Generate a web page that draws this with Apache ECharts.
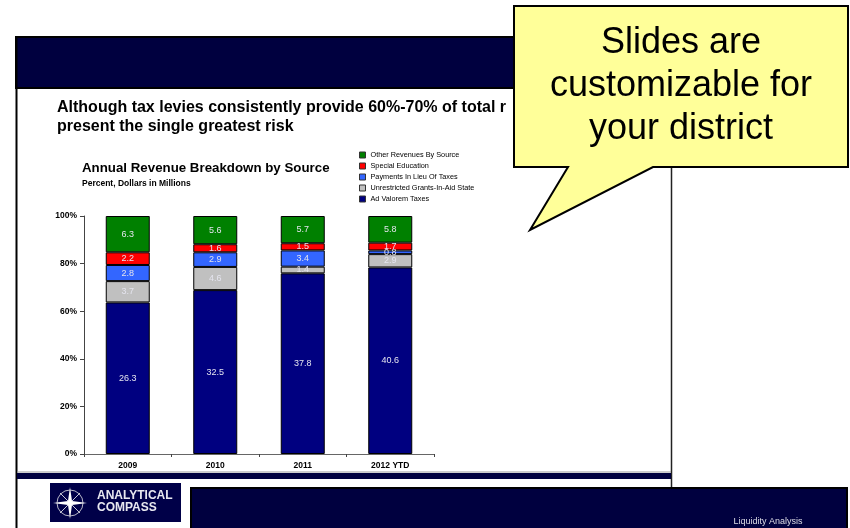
<!DOCTYPE html>
<html>
<head>
<meta charset="utf-8">
<script src="https://cdn.jsdelivr.net/npm/echarts@6/dist/echarts.min.js"></script>
<style>
html,body{margin:0;padding:0;background:#fff;}
#chart{width:850px;height:528px;}
</style>
</head>
<body>
<div id="chart"></div>
<script>
// ---- data (dollars in millions) ----
const categories = ['2009', '2010', '2011', '2012 YTD'];
const adValoremTaxes = [26.3, 32.5, 37.8, 40.6];
const unrestrictedGrants = [3.7, 4.6, 1.4, 2.9];
const paymentsInLieu = [2.8, 2.9, 3.4, 0.8];
const specialEducation = [2.2, 1.6, 1.5, 1.7];
const otherRevenues = [6.3, 5.6, 5.7, 5.8];
const seriesNames = ['Ad Valorem Taxes', 'Unrestricted Grants-In-Aid State', 'Payments In Lieu Of Taxes', 'Special Education', 'Other Revenues By Source'];
const yTickValues = [0, 20, 40, 60, 80, 100];

const FONT = '"Liberation Sans", Arial, sans-serif';
const rawSets = [adValoremTaxes, unrestrictedGrants, paymentsInLieu, specialEducation, otherRevenues];
const colors = ['#000080', '#C0C0C0', '#3366FF', '#FF0000', '#008000'];
const totals = categories.map((c, i) => rawSets.reduce((s, arr) => s + arr[i], 0));

const series = rawSets.map((arr, k) => ({
  name: seriesNames[k],
  type: 'bar',
  stack: 'total',
  barWidth: 44,
  data: arr.map((v, i) => v / totals[i] * 100),
  itemStyle: { color: colors[k], borderColor: '#000', borderWidth: 1 },
  label: {
    show: true, position: 'inside', color: '#e4e4ee', fontSize: 9, fontFamily: FONT,
    formatter: p => arr[p.dataIndex].toFixed(1)
  },
  emphasis: { disabled: true }
}));

function txt(text, x, y, size, weight, fill, align, extra) {
  return {
    type: 'text', z: 10,
    style: Object.assign({
      text: text, x: x, y: y, fontSize: size, fontWeight: weight, fontFamily: FONT, fill: fill,
      textAlign: align || 'left', align: align || 'left', textVerticalAlign: 'middle', verticalAlign: 'middle'
    }, extra || {})
  };
}

const NAVY = '#00003F';
const graphics = [
  // header bar
  { type: 'rect', z: 1, shape: { x: 16, y: 37, width: 656, height: 51 }, style: { fill: NAVY, stroke: '#000', lineWidth: 2 } },
  // slide borders
  { type: 'line', z: 1, shape: { x1: 16.5, y1: 37, x2: 16.5, y2: 528 }, style: { stroke: '#000', lineWidth: 2 } },
  { type: 'line', z: 1, shape: { x1: 671.5, y1: 37, x2: 671.5, y2: 488 }, style: { stroke: '#222', lineWidth: 1.5 } },
  { type: 'line', z: 1, shape: { x1: 17, y1: 472, x2: 671, y2: 472 }, style: { stroke: '#999', lineWidth: 1 } },
  { type: 'rect', z: 1, shape: { x: 17, y: 473, width: 654, height: 6 }, style: { fill: NAVY } },
  // logo
  { type: 'rect', z: 1, shape: { x: 50, y: 483, width: 131, height: 39 }, style: { fill: '#000048' } },
  { type: 'circle', z: 2, shape: { cx: 70, cy: 503, r: 13 }, style: { fill: 'none', stroke: '#b8b8c8', lineWidth: 1 } },
  { type: 'line', z: 2, shape: { x1: 60, y1: 493, x2: 80, y2: 513 }, style: { stroke: '#c8c8d8', lineWidth: 1 } },
  { type: 'line', z: 2, shape: { x1: 80, y1: 493, x2: 60, y2: 513 }, style: { stroke: '#c8c8d8', lineWidth: 1 } },
  { type: 'polygon', z: 2, shape: { points: [[70, 487], [72, 501], [87, 503], [72, 505], [70, 519], [68, 505], [53, 503], [68, 501]] }, style: { fill: '#ffffff' } },
  txt('ANALYTICAL', 97, 495.5, 12, 'bold', '#e8e8f0'),
  txt('COMPASS', 97, 508, 12, 'bold', '#e8e8f0'),
  // bottom box
  { type: 'rect', z: 1, shape: { x: 191, y: 488, width: 656, height: 50 }, style: { fill: NAVY, stroke: '#000', lineWidth: 2 } },
  txt('Liquidity Analysis', 768, 522, 9, 'normal', '#dcdce6', 'center'),
  // slide title
  txt('Although tax levies consistently provide 60%-70% of total r', 57, 108, 16, 'bold', '#000'),
  txt('present the single greatest risk', 57, 127, 16, 'bold', '#000'),
  // chart title
  txt('Annual Revenue Breakdown by Source', 82, 168, 13.3, 'bold', '#000'),
  txt('Percent, Dollars in Millions', 82, 183.5, 8.5, 'bold', '#000'),
  // callout
  { type: 'polygon', z: 20, shape: { points: [[514, 6], [848, 6], [848, 167], [653, 167], [530, 230], [568, 167], [514, 167]] },
    style: { fill: '#FFFF99', stroke: '#000', lineWidth: 2 } },
  Object.assign(txt('Slides are\ncustomizable for\nyour district', 681, 86, 36, 'normal', '#000', 'center', { lineHeight: 43 }), { z: 21 })
];

const chart = echarts.init(document.getElementById('chart'), null, { renderer: 'canvas' });
chart.setOption({
  animation: false,
  backgroundColor: '#ffffff',
  textStyle: { fontFamily: FONT },
  graphic: graphics,
  legend: {
    orient: 'vertical', left: 359, top: 151, padding: 0,
    itemWidth: 6, itemHeight: 6, itemGap: 3,
    icon: 'rect',
    itemStyle: { borderColor: '#333', borderWidth: 1 },
    textStyle: { fontSize: 7.3, lineHeight: 8, color: '#000', fontFamily: FONT },
    selectedMode: false,
    data: seriesNames.slice().reverse()
  },
  grid: { left: 84, top: 216, width: 350, height: 238, containLabel: false },
  xAxis: {
    type: 'category', data: categories,
    axisLine: { lineStyle: { color: '#666', width: 1 } },
    axisTick: { show: true, alignWithLabel: false, length: 3, lineStyle: { color: '#444' } },
    axisLabel: { color: '#000', fontSize: 8.5, fontWeight: 'bold', margin: 7, fontFamily: FONT }
  },
  yAxis: {
    type: 'value', min: yTickValues[0], max: yTickValues[yTickValues.length - 1], interval: 20,
    axisLine: { show: true, lineStyle: { color: '#444', width: 1 } },
    axisTick: { show: true, length: 4, lineStyle: { color: '#444' } },
    splitLine: { show: false },
    axisLabel: { color: '#000', fontSize: 8.5, fontWeight: 'bold', margin: 7, fontFamily: FONT, formatter: '{value}%' }
  },
  series: series
});
</script>
</body>
</html>
